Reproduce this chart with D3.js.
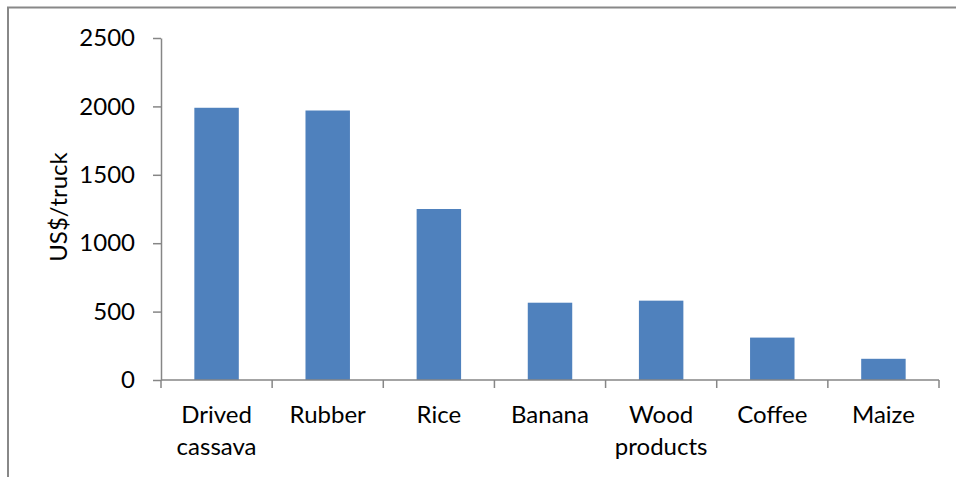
<!DOCTYPE html>
<html>
<head>
<meta charset="utf-8">
<script src="https://cdn.jsdelivr.net/npm/d3@7"></script>
<style>
  html, body { margin: 0; padding: 0; background: #fff; }
  svg { display: block; }
  text { font-family: Lato, "Open Sans", sans-serif; fill: #000; }
</style>
</head>
<body>
<svg id="chart" width="956" height="477"></svg>
<script>
// Transport cost per truck by product
const categories = [["Drived", "cassava"], ["Rubber"], ["Rice"], ["Banana"], ["Wood", "products"], ["Coffee"], ["Maize"]];
const costs = [1990, 1970, 1250, 565, 580, 310, 155];
const yTicks = [0, 500, 1000, 1500, 2000, 2500];
const yLabel = "US$/truck";

const svg = d3.select("#chart");
const W = 956, H = 477;
const plot = { left: 161, right: 939, top: 38, bottom: 380 };
const axisColor = "#868686";
const barColor = "#4F81BD";
const fontSize = "24px";

// Outer frame (top and left edges visible)
svg.append("path")
  .attr("d", `M8,${H} L8,7.5 L${W},7.5`)
  .attr("fill", "none")
  .attr("stroke", "#888")
  .attr("stroke-width", 2);

const keys = categories.map(c => c.join(" "));
const x = d3.scaleBand().domain(keys).range([plot.left, plot.right]).paddingInner(0.6).paddingOuter(0.3);
const xb = d3.scaleBand().domain(keys).range([plot.left, plot.right]);
const y = d3.scaleLinear().domain([0, 2500]).range([plot.bottom, plot.top]);

// Bars
svg.append("g").selectAll("rect")
  .data(costs)
  .join("rect")
  .attr("x", (d, i) => x(keys[i]))
  .attr("width", x.bandwidth())
  .attr("y", d => y(d))
  .attr("height", d => y(0) - y(d))
  .attr("fill", barColor);

// Y axis
const yAxis = svg.append("g")
  .attr("transform", `translate(${plot.left},0)`)
  .call(d3.axisLeft(y).tickValues(yTicks).tickFormat(d3.format("d"))
    .tickSize(8).tickSizeOuter(0).tickPadding(18));
yAxis.select(".domain").attr("stroke", axisColor).attr("stroke-width", 1.5);
yAxis.selectAll(".tick line").attr("stroke", axisColor).attr("stroke-width", 1.5);
yAxis.selectAll(".tick text")
  .style("font-family", "Lato, 'Open Sans', sans-serif")
  .style("font-size", fontSize)
  .attr("fill", "#000");

// X axis line with ticks at category boundaries
const bounds = keys.map(k => xb(k)).concat([plot.right]);
const xg = svg.append("g");
xg.append("line")
  .attr("x1", plot.left).attr("x2", plot.right)
  .attr("y1", plot.bottom).attr("y2", plot.bottom)
  .attr("stroke", axisColor).attr("stroke-width", 1.5);
xg.selectAll("line.tk")
  .data(bounds)
  .join("line")
  .attr("class", "tk")
  .attr("x1", d => d).attr("x2", d => d)
  .attr("y1", plot.bottom).attr("y2", plot.bottom + 8)
  .attr("stroke", axisColor).attr("stroke-width", 1.5);

// Category labels (may wrap onto two lines)
const lbl = xg.selectAll("text.cat")
  .data(categories)
  .join("text")
  .attr("class", "cat")
  .attr("text-anchor", "middle")
  .style("font-size", fontSize);
lbl.selectAll("tspan")
  .data((d, i) => d.map(s => ({ s, k: keys[i] })))
  .join("tspan")
  .attr("x", d => xb(d.k) + xb.bandwidth() / 2)
  .attr("y", (d, j) => 423 + j * 32)
  .text(d => d.s);

// Y axis title
svg.append("text")
  .attr("transform", `translate(67,207) rotate(-90)`)
  .attr("text-anchor", "middle")
  .style("font-size", fontSize)
  .text(yLabel);
</script>
</body>
</html>
